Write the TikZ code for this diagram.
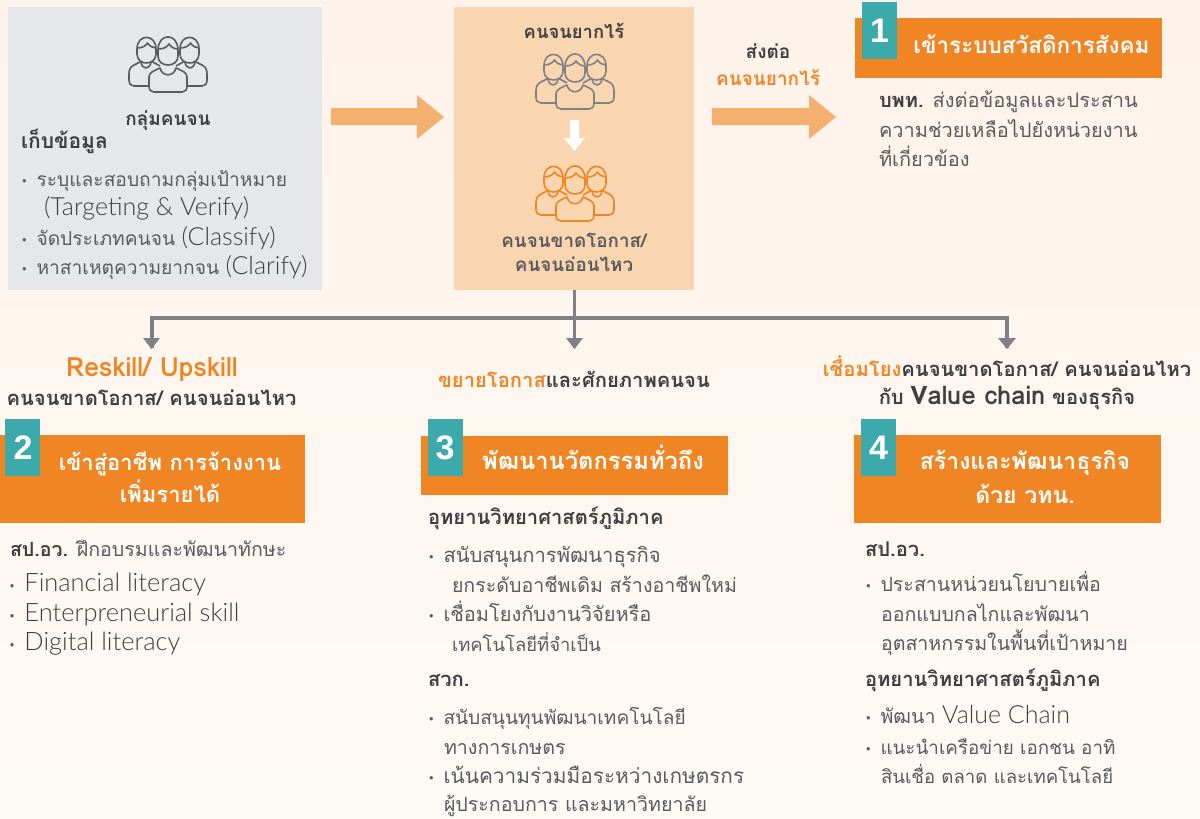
\documentclass[tikz,border=0pt]{standalone}
\usepackage{fontspec}
\setmainfont[Script=Thai]{Loma}
\newfontfamily\digitfont{Liberation Sans}
\newfontfamily\latf{Lato Light}
\definecolor{bgc}{HTML}{FEF3EA}
\definecolor{bgd}{HTML}{FEFAF6}
\definecolor{greyb}{HTML}{E6E7E9}
\definecolor{peach}{HTML}{F9D5B0}
\definecolor{arrowo}{HTML}{F5B06F}
\definecolor{orangem}{HTML}{EF8523}
\definecolor{tealm}{HTML}{3CA9AB}
\definecolor{ink}{HTML}{3F3F41}
\definecolor{inkl}{HTML}{5A5B5F}
\definecolor{linec}{HTML}{7F8185}
\newcommand\bu{\makebox[15.5pt][l]{\hspace{1pt}\raisebox{1.5pt}{\fontsize{10}{10}\selectfont •}}}
\newcommand\lat[1]{{\latf\color{ink}\fontsize{25}{23}\selectfont #1}}
\newcommand\latc[1]{{\latf\color{ink}\fontsize{25.4}{23}\selectfont #1}}
\newcommand\latb[1]{{\fontsize{25.5}{23}\selectfont #1}}
\newcommand\sz[1]{\fontsize{#1}{27}\selectfont}
\tikzset{
 x=1pt,y=-1pt,
 txt/.style={inner sep=0pt,outer sep=0pt,text=inkl,font=\fontsize{19.6}{27}\selectfont,anchor=base west,align=left},
 ltxt/.style={txt,font=\fontsize{19.2}{27}\selectfont},
 head/.style={inner sep=0pt,outer sep=0pt,text=ink,font=\fontsize{20.2}{25}\selectfont\bfseries,align=center,anchor=base},
 bandbox/.style={fill=orangem,draw=none,inner sep=0pt},
 badge/.style={fill=tealm,inner sep=0pt},
 digit/.style={inner sep=0pt,text=white,anchor=base,font=\digitfont\fontsize{34}{34}\selectfont\bfseries},
 bandtext/.style={inner sep=0pt,text=white,font=\fontsize{23}{33}\selectfont\bfseries,align=center,anchor=base},
 bigarrow/.style={fill=arrowo,draw=none},
 conn/.style={draw=linec,line width=3.2pt},
 tip/.style={fill=linec,draw=none},
 people/.pic={
  \begin{scope}[line width=1.6pt,line join=round,pic actions]
  \draw (-26,-4) -- (-34,0) .. controls (-38,2) and (-39,5) .. (-39,9) -- (-39,15) .. controls (-39,19) and (-37,21) .. (-34,21) -- (-15,21);
  \draw (26,-4) -- (34,0) .. controls (38,2) and (39,5) .. (39,9) -- (39,15) .. controls (39,19) and (37,21) .. (34,21) -- (15,21);
  \draw (-17,-4) -- (-8,1);
  \draw (17,-4) -- (8,1);
  \draw (-27,-3) .. controls (-26,5) and (-18,5) .. (-17,-3);
  \draw (27,-3) .. controls (26,5) and (18,5) .. (17,-3);
  \foreach \xx in {-21.5,21.5}{
   \draw[fill=pbg] (\xx-9.5,-16) .. controls (\xx-9.5,-31.5) and (\xx+9.5,-31.5) .. (\xx+9.5,-16) -- (\xx+9.5,-11) .. controls (\xx+9.5,1) and (\xx-9.5,1) .. (\xx-9.5,-11) -- cycle;
   \draw (\xx-9.5,-17) .. controls (\xx-4,-17) and (\xx-1,-19) .. (\xx+1,-22) .. controls (\xx+3,-19) and (\xx+6,-17) .. (\xx+9.5,-17);
  }
  \draw[fill=pbg] (-19,12) .. controls (-19,8) and (-15,6) .. (-8,3) .. controls (-6,12) and (6,12) .. (8,3) .. controls (15,6) and (19,8) .. (19,12) -- (19,21) .. controls (19,25) and (17,27) .. (14,27) -- (-14,27) .. controls (-17,27) and (-19,25) .. (-19,21) -- cycle;
  \draw[fill=pbg] (-10,-15) .. controls (-10,-32.5) and (10,-32.5) .. (10,-15) -- (10,-9) .. controls (10,3) and (-10,3) .. (-10,-9) -- cycle;
  \draw (-10,-16) .. controls (-4,-16) and (-1,-18) .. (1,-21) .. controls (3,-18) and (6,-16) .. (10,-16);
  \end{scope}
 }
}
\colorlet{pbg}{greyb}
\begin{document}
\begin{tikzpicture}
\useasboundingbox (0,0) rectangle (1200,819);
\shade[top color=bgc,bottom color=bgd,draw=none] (0,0) rectangle (1200,819);
% top boxes
\node[fill=greyb,minimum width=314pt,minimum height=283pt,inner sep=0pt] (grey) at (165,148) {};
\node[fill=peach,minimum width=240pt,minimum height=283pt,inner sep=0pt] (peachb) at (574,148) {};
% big arrows
\fill[bigarrow] (331,108) -- (417,108) -- (417,95) -- (444,117) -- (417,139) -- (417,125) -- (331,125) -- cycle;
\fill[bigarrow] (712,108) -- (809,108) -- (809,95) -- (836,117) -- (809,139) -- (809,125) -- (712,125) -- cycle;
% people
\colorlet{pbg}{greyb}
\pic[draw=inkl] (p1) at (168,65) {people};
\colorlet{pbg}{peach}
\pic[draw=linec] (p2) at (575,82) {people};
\pic[draw=orangem] (p3) at (575,194) {people};
% white down arrow
\fill[white] (570,120) -- (579,120) -- (579,138) -- (585,138) -- (574.5,151) -- (564,138) -- (570,138) -- cycle;
% left box text
\node[head,font=\fontsize{19}{25}\selectfont\bfseries] (t1) at (168,125) {กลุ่มคนจน};
\node[head,anchor=base west,font=\fontsize{21}{25}\selectfont\bfseries] (t2) at (21,148) {เก็บข้อมูล};
\node[ltxt] (t3) at (21,186) {\bu ระบุและสอบถามกลุ่มเป้าหมาย};
\node[ltxt] (t4) at (44,215) {\lat{(Targeting \& Verify)}};
\node[ltxt] (t5) at (21,245) {\bu จัดประเภทคนจน \lat{(Classify)}};
\node[ltxt] (t6) at (21,274) {\bu หาสาเหตุความยากจน \lat{(Clarify)}};
% middle box text
\node[head,font=\fontsize{18.4}{25}\selectfont\bfseries] (m1) at (574,38) {คนจนยากไร้};
\node[head,text=inkl,font=\fontsize{18.8}{25}\selectfont\bfseries] (m2) at (574,247) {คนจนขาดโอกาส/};
\node[head,text=inkl,font=\fontsize{18.8}{25}\selectfont\bfseries] (m3) at (574,271) {คนจนอ่อนไหว};
\node[head,font=\fontsize{19}{25}\selectfont\bfseries] (s1) at (768,58) {ส่งต่อ};
\node[head,text=orangem,font=\fontsize{19}{25}\selectfont\bfseries] (s2) at (768,85) {คนจนยากไร้};
% band 1
\node[bandbox,minimum width=307pt,minimum height=60pt] (b1) at (1008.5,48) {};
\node[badge,minimum width=35pt,minimum height=57pt] (n1) at (879.5,30.5) {};
\node[digit] (n1d) at (879.5,42) {1};
\node[bandtext,font=\fontsize{22.5}{33}\selectfont\bfseries] (b1t) at (1031.5,53) {เข้าระบบสวัสดิการสังคม};
\node[txt,font=\fontsize{20}{27}\selectfont] (r1) at (879,107) {\textbf{\textcolor{ink}{บพท.}} ส่งต่อข้อมูลและประสาน};
\node[txt,font=\fontsize{20}{27}\selectfont] (r2) at (879,137) {ความช่วยเหลือไปยังหน่วยงาน};
\node[txt,font=\fontsize{20}{27}\selectfont] (r3) at (879,166) {ที่เกี่ยวข้อง};
% connectors
\coordinate (j1) at (574.5,318);
\coordinate (c2) at (152,348);
\coordinate (c3) at (574.5,348);
\coordinate (c4) at (1007,348);
\draw[conn] (peachb.south -| j1) -- (c3);
\draw[conn] (c2) -- (152,318) -- (1007,318) -- (c4);
\fill[tip] (143,338) -- (160,338) -- (151.5,349) -- cycle;
\fill[tip] (566,338) -- (583,338) -- (574.5,349) -- cycle;
\fill[tip] (998,338) -- (1016,338) -- (1007,349) -- cycle;
% column heads
\node[head,text=orangem,font=\fontsize{26.5}{25}\selectfont\bfseries] (h2a) at (152,376) {Reskill/ Upskill};
\node[head] (h2b) at (151.5,405) {คนจนขาดโอกาส/ คนจนอ่อนไหว};
\node[head] (h3) at (574,387) {\textcolor{orangem}{ขยายโอกาส}และศักยภาพคนจน};
\node[head] (h4a) at (1007,376) {\textcolor{orangem}{เชื่อมโยง}คนจนขาดโอกาส/ คนจนอ่อนไหว};
\node[head] (h4b) at (1007,404) {กับ \latb{Value chain} ของธุรกิจ};
% band 2
\node[bandbox,minimum width=305pt,minimum height=88pt] (b2) at (152.5,479) {};
\node[badge,minimum width=35pt,minimum height=57pt] (n2) at (22.5,447.5) {};
\node[digit] (n2d) at (23,459) {2};
\node[bandtext,font=\fontsize{22}{33}\selectfont\bfseries] (b2t) at (170,470) {เข้าสู่อาชีพ การจ้างงาน};
\node[bandtext,font=\fontsize{22}{33}\selectfont\bfseries] (b2u) at (170,502) {เพิ่มรายได้};
% band 3
\node[bandbox,minimum width=307pt,minimum height=59pt] (b3) at (574.5,465) {};
\node[badge,minimum width=35pt,minimum height=57pt] (n3) at (445,447.5) {};
\node[digit] (n3d) at (445,459) {3};
\node[bandtext,font=\fontsize{23.7}{33}\selectfont\bfseries] (b3t) at (593,469) {พัฒนานวัตกรรมทั่วถึง};
% band 4
\node[bandbox,minimum width=307pt,minimum height=88pt] (b4) at (1007,479) {};
\node[badge,minimum width=35pt,minimum height=57pt] (n4) at (878.5,447.5) {};
\node[digit] (n4d) at (878.5,459) {4};
\node[bandtext] (b4t) at (1025,469) {สร้างและพัฒนาธุรกิจ};
\node[bandtext] (b4u) at (1025,503) {ด้วย วทน.};
% col 2
\node[txt] (c21) at (10,556) {\textbf{\textcolor{ink}{สป.อว.}} ฝึกอบรมและพัฒนาทักษะ};
\node[txt] (c22) at (9,591) {\bu \latc{Financial literacy}};
\node[txt] (c23) at (9,621) {\bu \latc{Enterpreneurial skill}};
\node[txt] (c24) at (9,650) {\bu \latc{Digital literacy}};
% col 3
\node[head,anchor=base west] (c31) at (428,524) {อุทยานวิทยาศาสตร์ภูมิภาค};
\node[txt,font=\sz{20.2}] (c32) at (428,562) {\bu สนับสนุนการพัฒนาธุรกิจ};
\node[txt] (c33) at (452,592) {ยกระดับอาชีพเดิม สร้างอาชีพใหม่};
\node[txt,font=\sz{20}] (c34) at (428,621) {\bu เชื่อมโยงกับงานวิจัยหรือ};
\node[txt,font=\sz{18.4}] (c35) at (452,651) {เทคโนโลยีที่จำเป็น};
\node[head,anchor=base west] (c36) at (428,686) {สวก.};
\node[txt,font=\sz{19.1}] (c37) at (428,724) {\bu สนับสนุนทุนพัฒนาเทคโนโลยี};
\node[txt] (c38) at (444,754) {ทางการเกษตร};
\node[txt,font=\sz{20.8}] (c39) at (428,783) {\bu เน้นความร่วมมือระหว่างเกษตรกร};
\node[txt] (c310) at (444,811.5) {ผู้ประกอบการ และมหาวิทยาลัย};
% col 4
\node[head,anchor=base west] (c41) at (865,556) {สป.อว.};
\node[txt] (c42) at (865,591) {\bu ประสานหน่วยนโยบายเพื่อ};
\node[txt] (c43) at (881,621) {ออกแบบกลไกและพัฒนา};
\node[txt] (c44) at (881,650) {อุตสาหกรรมในพื้นที่เป้าหมาย};
\node[head,anchor=base west] (c45) at (865,686) {อุทยานวิทยาศาสตร์ภูมิภาค};
\node[txt] (c46) at (865,723) {\bu พัฒนา \lat{Value Chain}};
\node[txt,font=\sz{18.8}] (c47) at (865,754) {\bu แนะนำเครือข่าย เอกชน อาทิ};
\node[txt,font=\sz{18.6}] (c48) at (881,783) {สินเชื่อ ตลาด และเทคโนโลยี};
\end{tikzpicture}
\end{document}
